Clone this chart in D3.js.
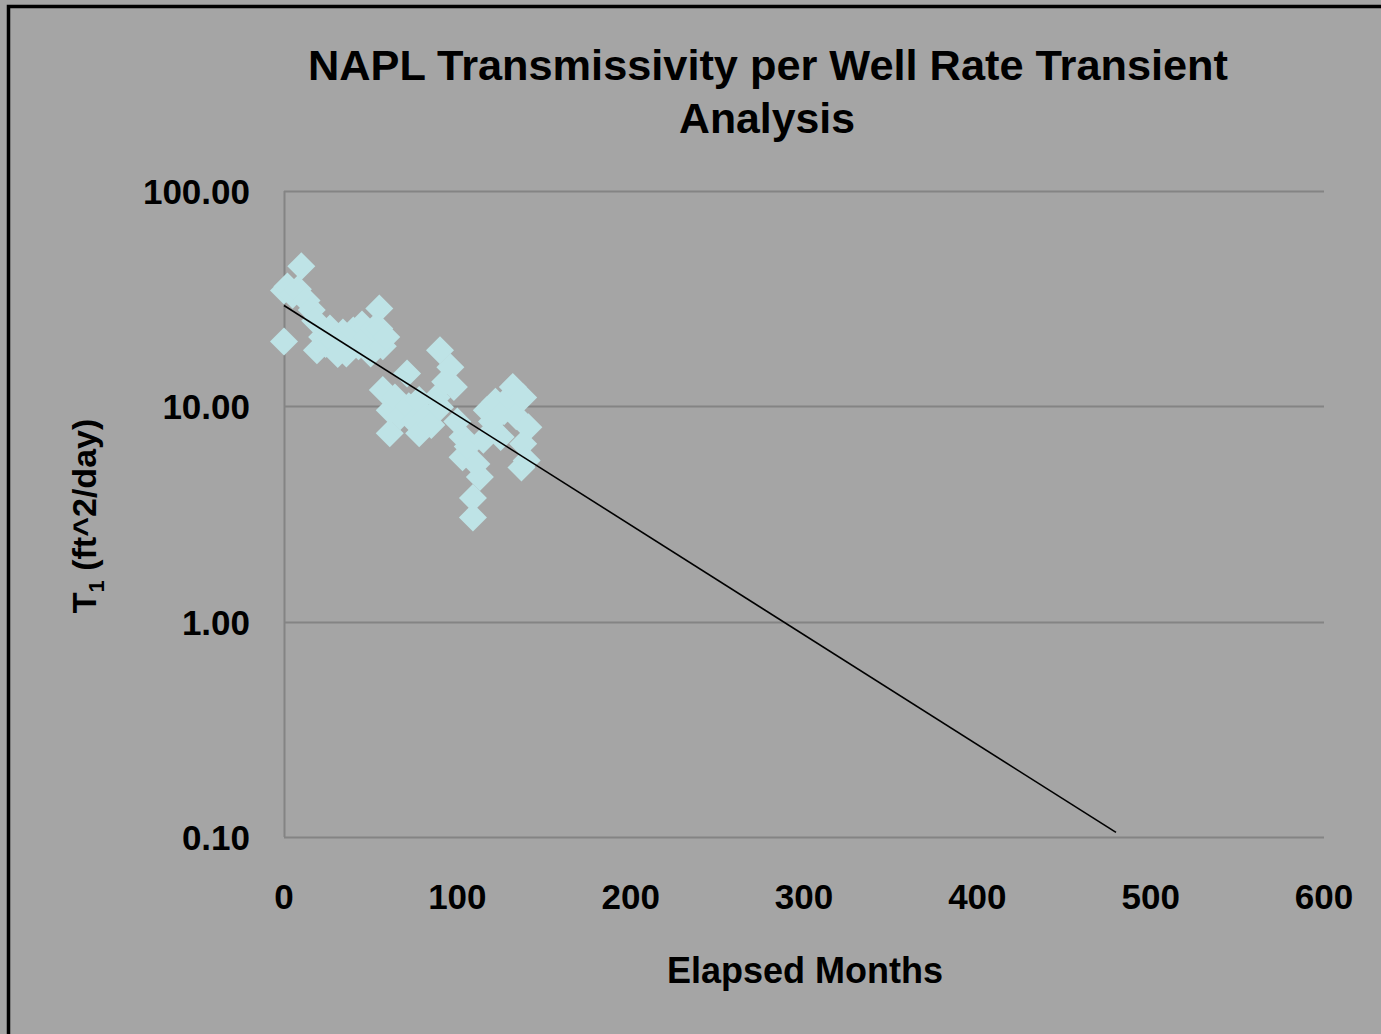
<!DOCTYPE html>
<html>
<head>
<meta charset="utf-8">
<script src="https://cdn.jsdelivr.net/npm/d3@7"></script>
<style>
  html, body { margin: 0; padding: 0; background: #a5a5a5; overflow: hidden; }
  svg { display: block; }
  text { font-family: "Liberation Sans", Arial, sans-serif; font-weight: bold; fill: #000; }
</style>
</head>
<body>
<svg id="chart" width="1381" height="1034"></svg>
<script>
// ---- Data ----
const months = [0,0,2,5,10,8,13,16,18,19,22,24,26.5,29,31,34,36,38,40,43,45,48,50,52,55,55,57,59,57,61,61,64,67,71,72,75,78,78,82,85,88,90,90,93,96,98,100,103,103,106,109,109,111,113,115,117,120,122,125,127,130,132,134,138,138,140,137,141];
const transmissivity = [20,34.5,36,33,44.7,35,31,28,25,18.2,21,19.5,23,20,17.5,22,17.6,21,22.5,19,24,21,17.6,23,28.5,23,19,21,11.9,9.6,7.5,11,9,14.2,10,8.5,10.7,7.5,9,8.2,11,18.2,9.9,13,15.2,12.3,8.5,7.2,5.8,6.5,3.75,3.05,5.4,4.7,7,9.6,8.5,10.5,7.2,9.5,11,12.3,9,11,6.7,5.6,5.2,8];
const trendMonths = [0, 480];
const trendValues = [29.4, 0.105];
const xTicks = [0,100,200,300,400,500,600];
const yTicks = [0.1,1,10,100];
const titleLines = ["NAPL Transmissivity per Well Rate Transient", "Analysis"];
const xTitle = "Elapsed Months";

const svg = d3.select("#chart");

// outer frame (extends beyond right/bottom edges)
svg.append("rect").attr("x", 8.5).attr("y", 6.5).attr("width", 2000).attr("height", 2000)
  .attr("fill", "#a5a5a5").attr("stroke", "#000").attr("stroke-width", 3.5);

const x = d3.scaleLinear().domain([0, 600]).range([284, 1324]);
const y = d3.scaleLog().domain([0.1, 100]).range([837, 191]);

// gridlines
svg.append("g").selectAll("line").data(yTicks).join("line")
  .attr("x1", x(0)).attr("x2", x(600))
  .attr("y1", d => Math.round(y(d)) + 0.5).attr("y2", d => Math.round(y(d)) + 0.5)
  .attr("stroke", "#848484").attr("stroke-width", 2);

// left axis line
svg.append("line").attr("x1", x(0) + 0.5).attr("x2", x(0) + 0.5)
  .attr("y1", y(100)).attr("y2", y(0.1))
  .attr("stroke", "#848484").attr("stroke-width", 2);

// y tick labels
svg.append("g").selectAll("text").data(yTicks).join("text")
  .attr("x", 250).attr("y", d => y(d) + 13)
  .attr("text-anchor", "end").attr("font-size", 35)
  .text(d => d3.format(".2f")(d));

// x tick labels
svg.append("g").selectAll("text").data(xTicks).join("text")
  .attr("x", d => x(d)).attr("y", 909)
  .attr("text-anchor", "middle").attr("font-size", 35)
  .text(d => d);

// markers
const r = 14;
const diamond = `M0,${-r}L${r},0L0,${r}L${-r},0Z`;
const pts = months.map((m, i) => ({m, v: transmissivity[i]}));
svg.append("g").selectAll("path").data(pts).join("path")
  .attr("d", diamond)
  .attr("transform", d => `translate(${x(d.m)},${y(d.v)})`)
  .attr("fill", "#bee3e6");

// trend line
const trend = trendMonths.map((m, i) => [m, trendValues[i]]);
svg.append("path")
  .attr("d", d3.line().x(d => x(d[0])).y(d => y(d[1]))(trend))
  .attr("fill", "none").attr("stroke", "#000").attr("stroke-width", 1.6);

// title
svg.append("text").attr("x", 768).attr("y", 80).attr("text-anchor", "middle")
  .attr("font-size", 42).attr("textLength", 920).attr("lengthAdjust", "spacingAndGlyphs")
  .text(titleLines[0]);
svg.append("text").attr("x", 767).attr("y", 133).attr("text-anchor", "middle")
  .attr("font-size", 42).attr("textLength", 176).attr("lengthAdjust", "spacingAndGlyphs")
  .text(titleLines[1]);

// x axis title
svg.append("text").attr("x", 805).attr("y", 983).attr("text-anchor", "middle")
  .attr("font-size", 36).text(xTitle);

// y axis title
const yt = svg.append("text").attr("transform", "translate(96,516) rotate(-90)")
  .attr("text-anchor", "middle").attr("font-size", 34);
yt.append("tspan").text("T");
yt.append("tspan").attr("font-size", 22).attr("dy", 8).text("1");
yt.append("tspan").attr("dy", -8).text(" (ft^2/day)");
</script>
</body>
</html>
